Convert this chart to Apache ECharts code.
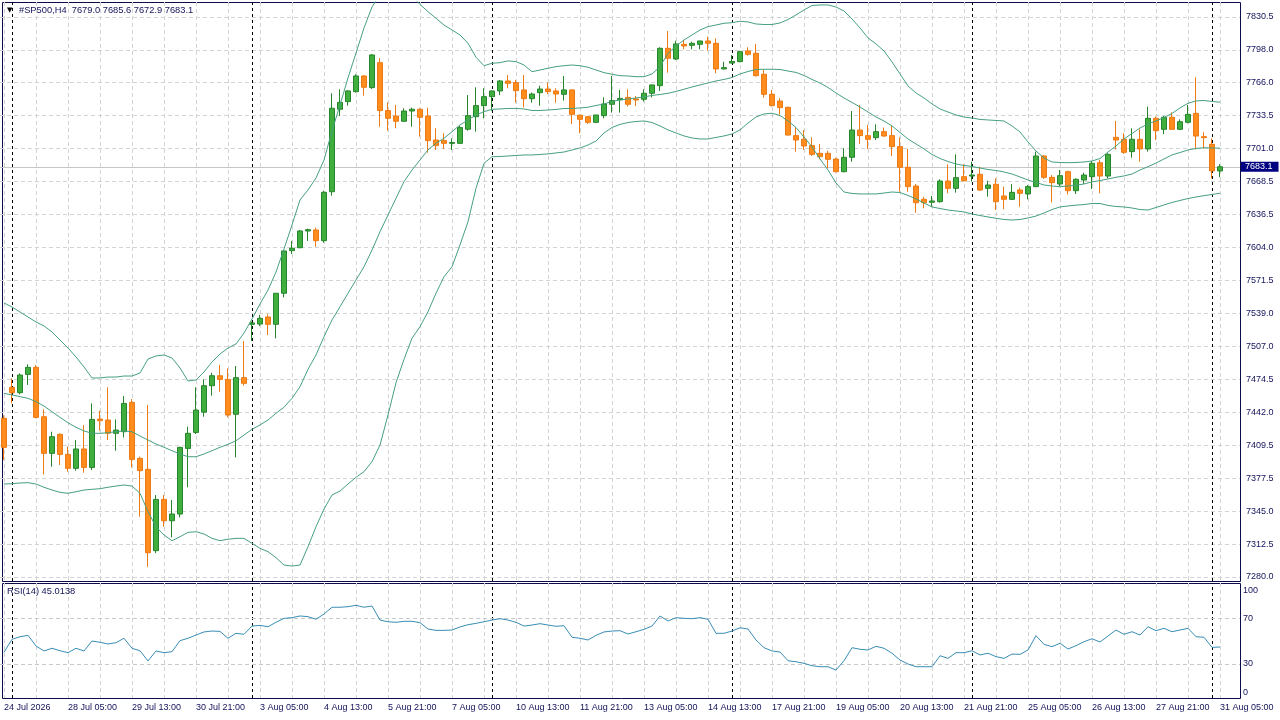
<!DOCTYPE html>
<html><head><meta charset="utf-8">
<script src="https://cdn.jsdelivr.net/npm/echarts@6/dist/echarts.min.js"></script>
<style>html,body{margin:0;padding:0;background:#fff}#c{width:1280px;height:720px}</style>
</head><body><div id="c"></div>
<script>
const symbolInfo = '#SP500,H4  7679.0 7685.6 7672.9 7683.1';
const rsiInfo = 'RSI(14) 45.0138';
const lastPrice = 7683.1;
const tradingDays = ['24 Jul','27 Jul','28 Jul','29 Jul','30 Jul','31 Jul','3 Aug','4 Aug','5 Aug','6 Aug','7 Aug','10 Aug','11 Aug','12 Aug','13 Aug','14 Aug','17 Aug','18 Aug','19 Aug','20 Aug','21 Aug','24 Aug','25 Aug','26 Aug','27 Aug','28 Aug','31 Aug'];
const sessionHours = ['01:00','05:00','09:00','13:00','17:00','21:00'];
const xTickLabels = ['24 Jul 2026','28 Jul 05:00','29 Jul 13:00','30 Jul 21:00','3 Aug 05:00','4 Aug 13:00','5 Aug 21:00','7 Aug 05:00','10 Aug 13:00','11 Aug 21:00','13 Aug 05:00','14 Aug 13:00','17 Aug 21:00','19 Aug 05:00','20 Aug 13:00','21 Aug 21:00','25 Aug 05:00','26 Aug 13:00','27 Aug 21:00','31 Aug 05:00'];
const priceTicks = [7280.0,7312.5,7345.0,7377.5,7409.5,7442.0,7474.5,7507.0,7539.0,7571.5,7604.0,7636.5,7668.5,7701.0,7733.5,7766.0,7798.0,7830.5];
const rsiTicks = [0,30,70,100];
const rsiLevels = [30,70];
const weekStarts = [1,31,61,91,121,151];

const opens = [7435.9,7466.4,7461.1,7479.1,7486.0,7437.5,7401.5,7420.2,7400.5,7386.8,
7405.8,7387.7,7435.2,7434.3,7421.2,7422.8,7451.6,7396.6,7385.8,7305.9,
7356.3,7335.3,7341.9,7406.4,7422.1,7442.0,7468.0,7477.8,7474.2,7439.9,
7475.9,7528.3,7528.6,7535.5,7528.3,7558.8,7600.7,7603.6,7620.0,7621.0,
7610.5,7658.6,7739.6,7747.1,7756.9,7772.3,7760.9,7785.4,7738.3,7733.0,
7727.8,7737.9,7739.6,7733.0,7709.4,7708.8,7706.1,7706.1,7720.0,7732.3,
7743.2,7752.0,7757.6,7767.4,7765.8,7758.6,7750.0,7755.9,7759.5,7757.6,
7754.3,7758.6,7733.7,7732.3,7726.8,7733.3,7744.5,7749.0,7751.3,7749.7,
7749.4,7755.3,7762.8,7799.5,7789.0,7803.4,7802.4,7803.4,7806.7,7804.4,
7779.2,7785.0,7786.4,7796.9,7794.6,7774.0,7754.3,7747.7,7741.5,7713.7,
7710.1,7703.9,7696.3,7696.3,7690.7,7678.3,7692.4,7719.2,7713.7,7711.7,
7717.6,7713.7,7702.9,7682.6,7664.2,7651.1,7648.2,7648.8,7669.1,7661.9,
7673.4,7674.0,7675.7,7661.9,7665.9,7654.4,7651.1,7660.3,7656.4,7663.6,
7693.7,7672.7,7666.2,7678.3,7659.6,7670.1,7673.4,7687.1,7674.0,7712.0,
7710.1,7698.0,7710.1,7700.6,7730.7,7719.9,7731.7,7719.9,7726.8,7735.6,
7712.7,7705.2,7679.0];
const highs = [7439.0,7475.2,7480.1,7489.0,7488.3,7444.7,7422.8,7421.2,7408.1,7414.6,
7429.3,7450.6,7443.4,7466.4,7434.9,7457.8,7454.9,7398.2,7449.0,7360.6,
7360.6,7355.7,7408.0,7427.7,7466.4,7474.2,7480.8,7488.3,7485.0,7487.3,
7511.9,7531.0,7537.5,7538.1,7559.0,7601.3,7610.2,7621.0,7622.3,7623.3,
7659.6,7755.3,7759.2,7758.5,7774.0,7773.3,7793.9,7789.7,7746.4,7743.8,
7740.6,7741.2,7740.6,7741.2,7720.9,7716.0,7711.0,7723.2,7753.6,7761.2,
7760.2,7758.0,7768.4,7773.3,7768.4,7773.3,7756.0,7762.8,7765.8,7760.2,
7772.3,7759.2,7734.6,7733.0,7734.0,7751.3,7772.3,7758.6,7759.2,7752.6,
7759.2,7764.0,7800.5,7816.5,7807.0,7807.7,7806.0,7807.0,7811.0,7809.3,
7786.3,7792.9,7797.2,7800.5,7803.8,7778.2,7758.5,7750.4,7742.2,7721.9,
7719.2,7712.0,7705.5,7698.9,7692.0,7701.2,7737.9,7743.8,7724.2,7724.8,
7721.6,7723.5,7712.0,7700.6,7666.2,7653.7,7654.4,7670.8,7685.5,7695.3,
7685.5,7688.1,7683.2,7669.4,7671.7,7663.6,7666.2,7662.6,7665.2,7698.0,
7694.7,7675.0,7679.9,7679.3,7671.7,7677.3,7688.8,7689.8,7696.3,7728.1,
7716.0,7720.9,7719.9,7742.2,7732.4,7733.0,7736.6,7729.7,7743.8,7771.0,
7717.0,7711.0,7685.6];
const lows = [7395.0,7450.6,7459.5,7468.7,7436.0,7380.9,7388.4,7390.0,7383.5,7384.5,
7382.5,7385.1,7423.8,7414.6,7404.1,7417.2,7387.7,7339.3,7290.1,7303.5,
7329.4,7319.0,7338.6,7368.1,7420.5,7437.5,7458.2,7462.1,7436.9,7397.6,
7468.0,7512.0,7526.6,7517.8,7514.5,7554.8,7597.4,7603.0,7610.2,7604.6,
7608.5,7654.7,7733.0,7743.2,7756.0,7753.0,7759.5,7722.5,7718.6,7720.9,
7727.4,7722.5,7712.7,7697.0,7699.6,7700.6,7699.6,7705.5,7718.6,7717.6,
7730.7,7738.2,7753.6,7760.2,7746.1,7741.5,7746.1,7743.1,7754.6,7746.1,
7748.1,7725.1,7715.9,7725.1,7726.0,7730.7,7736.3,7736.3,7742.2,7742.8,
7747.1,7751.3,7757.6,7775.6,7788.0,7798.5,7798.5,7798.5,7797.2,7775.0,
7778.9,7784.8,7785.7,7792.3,7771.7,7751.0,7742.2,7734.6,7713.7,7698.0,
7699.6,7693.7,7690.4,7681.6,7677.6,7677.6,7688.1,7705.5,7700.6,7709.4,
7712.7,7693.7,7658.6,7658.6,7638.0,7642.3,7643.9,7647.8,7657.0,7657.7,
7668.5,7668.5,7659.3,7653.7,7640.6,7641.3,7650.5,7643.9,7651.1,7663.0,
7671.1,7648.2,7664.2,7656.0,7656.4,7666.2,7661.3,7657.0,7671.7,7700.2,
7695.7,7692.0,7688.1,7698.0,7709.4,7715.0,7719.2,7719.2,7725.8,7700.2,
7701.0,7671.8,7672.9];
const closes = [7407.4,7461.1,7478.5,7486.0,7436.9,7401.5,7417.9,7400.5,7386.8,7405.8,
7387.7,7434.9,7433.6,7421.2,7424.4,7450.6,7395.6,7384.5,7303.9,7356.3,
7335.3,7341.9,7407.4,7421.2,7444.1,7468.0,7477.8,7474.2,7439.2,7475.9,
7470.3,7529.6,7534.2,7528.3,7558.8,7600.4,7603.0,7620.0,7621.3,7610.5,
7658.0,7740.6,7746.4,7757.6,7772.3,7761.2,7793.0,7738.3,7730.7,7727.8,
7737.9,7739.6,7731.7,7708.8,7703.9,7706.1,7707.0,7721.6,7733.3,7743.2,
7752.0,7757.6,7767.4,7765.1,7757.9,7750.0,7754.6,7759.5,7756.9,7754.6,
7758.6,7734.6,7729.7,7726.8,7734.0,7744.8,7748.1,7750.3,7744.5,7748.7,
7755.3,7763.5,7799.5,7789.7,7803.8,7801.8,7804.4,7806.7,7804.4,7779.2,
7780.5,7786.6,7796.2,7793.6,7772.6,7754.3,7743.2,7741.2,7714.3,7709.4,
7703.5,7695.3,7693.0,7690.4,7678.3,7692.4,7719.2,7713.7,7710.1,7717.6,
7713.3,7702.9,7682.6,7663.6,7647.8,7647.8,7649.5,7669.1,7661.9,7672.4,
7669.4,7675.0,7660.3,7665.2,7648.8,7651.1,7658.0,7657.0,7663.6,7693.7,
7672.7,7667.5,7674.4,7659.6,7670.8,7675.0,7686.5,7674.0,7695.3,7709.4,
7697.3,7710.1,7700.6,7730.7,7718.6,7731.7,7719.9,7727.4,7734.6,7713.3,
7711.7,7679.0,7683.1];
const bbUpper = [7549.3,7545.3,7540.4,7535.5,7530.6,7526.7,7520.8,7512.9,7505.0,7496.2,
7486.4,7475.6,7475.6,7476.5,7476.5,7477.5,7477.5,7480.5,7494.2,7497.2,
7498.2,7495.2,7485.4,7472.6,7473.6,7481.5,7491.3,7499.1,7505.0,7509.0,
7519.8,7533.5,7548.3,7562.0,7579.7,7602.3,7625.9,7650.5,7660.3,7672.1,
7689.8,7718.3,7743.8,7770.4,7794.9,7819.5,7840.1,7851.9,7858.8,7860.8,
7856.8,7850.9,7842.6,7835.5,7829.0,7822.4,7817.5,7812.6,7804.5,7790.7,
7782.4,7784.8,7785.4,7787.1,7786.4,7783.1,7776.5,7778.2,7779.9,7781.5,
7782.4,7783.1,7782.4,7780.9,7778.2,7775.6,7774.0,7772.6,7772.3,7771.6,
7771.6,7774.3,7781.5,7794.6,7801.8,7807.7,7812.6,7817.5,7820.8,7822.4,
7824.1,7824.7,7826.1,7825.4,7823.4,7822.9,7822.9,7824.4,7827.8,7832.3,
7837.2,7841.6,7842.1,7842.1,7840.1,7836.2,7828.3,7819.5,7809.7,7803.8,
7796.9,7786.1,7774.3,7762.5,7755.6,7750.7,7744.8,7739.9,7736.9,7734.0,
7732.0,7731.0,7729.6,7729.1,7728.6,7728.1,7723.2,7717.3,7707.5,7698.6,
7691.7,7687.8,7687.3,7687.1,7687.3,7687.8,7688.8,7691.2,7697.6,7703.5,
7710.4,7715.8,7721.2,7725.2,7728.1,7731.5,7735.5,7740.9,7745.5,7747.8,
7748.2,7747.3,7746.5];
const bbMiddle = [7460.5,7458.9,7457.2,7455.6,7452.3,7448.0,7442.4,7436.9,7431.6,7427.1,
7423.5,7421.2,7421.2,7421.8,7422.8,7423.5,7422.8,7418.6,7414.6,7410.7,
7407.5,7404.1,7400.9,7398.2,7398.2,7400.9,7404.1,7407.5,7410.4,7413.9,
7419.5,7425.1,7429.4,7434.3,7440.9,7446.8,7455.6,7467.0,7484.1,7498.2,
7516.1,7532.6,7545.6,7558.8,7571.9,7584.9,7601.3,7619.3,7635.7,7652.1,
7668.5,7679.9,7689.8,7699.6,7706.2,7711.1,7717.6,7724.2,7729.1,7734.0,
7737.2,7739.6,7739.9,7740.4,7740.4,7739.9,7738.4,7738.4,7738.9,7739.4,
7740.4,7740.4,7740.9,7741.6,7743.3,7744.8,7747.3,7748.7,7749.7,7750.7,
7751.7,7753.2,7754.1,7755.3,7757.1,7759.3,7761.5,7763.5,7765.4,7767.4,
7768.9,7770.8,7774.3,7776.7,7778.7,7778.9,7778.9,7778.7,7777.2,7775.8,
7772.8,7768.9,7765.4,7761.0,7755.6,7750.7,7746.3,7741.9,7736.9,7732.0,
7728.1,7723.2,7716.8,7710.4,7705.5,7700.6,7695.2,7691.2,7688.3,7685.8,
7684.4,7683.4,7681.9,7680.4,7679.5,7678.0,7676.0,7673.1,7670.1,7667.7,
7665.2,7664.2,7663.5,7664.2,7664.9,7666.2,7668.2,7669.6,7671.1,7672.8,
7674.1,7676.0,7679.9,7683.2,7686.8,7690.8,7694.7,7697.1,7699.6,7701.1,
7701.8,7701.6,7701.3];
const bbLower = [7371.4,7371.7,7372.4,7372.7,7371.4,7368.2,7365.5,7363.2,7362.3,7363.8,
7365.5,7366.2,7366.8,7368.2,7369.4,7370.4,7369.4,7362.3,7344.2,7329.4,
7321.3,7315.7,7319.6,7323.9,7324.5,7322.3,7318.0,7315.7,7317.1,7318.0,
7318.0,7313.1,7308.2,7304.9,7299.0,7291.8,7290.8,7291.8,7309.8,7329.4,
7346.8,7360.6,7364.5,7371.4,7378.0,7383.5,7393.3,7409.7,7439.2,7470.9,
7493.9,7514.6,7526.0,7540.7,7558.8,7575.1,7584.9,7606.3,7629.1,7662.0,
7686.5,7693.0,7693.2,7693.7,7694.2,7694.7,7694.7,7695.2,7695.7,7696.7,
7697.6,7699.6,7701.6,7704.5,7708.4,7716.3,7721.7,7724.7,7726.6,7727.6,
7728.1,7726.6,7723.2,7719.3,7716.3,7713.4,7711.4,7710.4,7710.4,7711.9,
7713.4,7715.3,7719.3,7726.1,7732.0,7735.0,7735.7,7733.5,7728.1,7721.7,
7712.4,7702.6,7690.8,7679.9,7667.2,7658.3,7656.9,7656.4,7656.4,7656.4,
7657.3,7658.3,7657.8,7654.9,7651.5,7647.5,7643.6,7642.1,7640.6,7639.7,
7638.7,7636.7,7635.2,7633.8,7632.5,7631.3,7630.8,7631.3,7632.8,7634.7,
7637.7,7641.1,7643.6,7644.6,7645.4,7646.0,7647.0,7647.0,7645.1,7644.1,
7643.6,7642.6,7641.1,7640.6,7643.1,7645.6,7648.0,7650.0,7651.9,7653.4,
7654.7,7655.9,7657.1];
const rsi = [40.3,51.8,54.1,55.3,45.9,41.5,43.9,41.7,40.0,43.9,
41.5,50.3,49.2,47.7,48.8,52.7,43.9,41.7,32.7,41.5,
40.0,40.9,50.6,52.7,55.6,58.3,59.1,58.8,52.7,57.1,
56.2,63.5,64.1,62.9,66.8,70.3,70.9,72.4,71.8,69.5,
74.1,80.1,80.1,80.6,81.8,80.1,81.2,68.8,67.3,66.8,
67.7,67.7,66.5,60.9,59.7,59.7,60.0,62.7,64.7,65.9,
67.3,68.8,70.0,68.8,66.8,63.5,64.4,65.6,64.4,63.3,
63.8,53.6,52.7,51.2,55.3,58.3,59.1,59.4,56.5,58.5,
60.6,63.5,72.4,68.0,70.9,70.3,70.0,70.9,69.5,57.1,
57.1,59.1,62.0,60.9,51.2,44.4,41.5,40.6,32.9,32.0,
30.6,28.5,27.6,27.6,24.7,32.9,44.4,43.0,42.4,45.6,
43.9,39.5,33.5,30.0,27.6,27.6,27.6,37.3,35.0,40.0,
40.0,41.7,38.0,39.5,36.5,35.0,38.8,38.5,42.4,55.0,
47.4,45.3,48.3,43.2,46.2,49.7,52.3,49.4,54.7,60.0,
56.2,58.5,55.6,62.9,59.4,61.5,58.5,60.0,61.5,54.1,
53.6,44.7,45.01];

// categories: H4 bar times
const times = [tradingDays[0] + ' 21:00'];
for (let d = 1; d < tradingDays.length - 1; d++) {
  sessionHours.forEach(h => times.push(tradingDays[d] + ' ' + h));
}
sessionHours.slice(0, 2).forEach(h => times.push(tradingDays[tradingDays.length - 1] + ' ' + h));
const categories = times.concat(['', ' ']); // right chart shift

const candleData = times.map((t, i) => [opens[i], closes[i], lows[i], highs[i]]);

const FONT = '"Liberation Sans", Arial, sans-serif';
const TXT = '#12125a';
const FRAME = '#0c0c4a';
const GRIDC = '#d3d3d3';
const BAND = '#46a07e';
const RSIC = '#3a8db5';

const chart = echarts.init(document.getElementById('c'), null, {renderer: 'canvas'});
const hidden = {show: false};
const gridBase = {containLabel: false, outerBoundsMode: 'none'};

const sepLines = weekStarts.map(i => ({xAxis: times[i]}));

chart.setOption({
  animation: false,
  backgroundColor: '#ffffff',
  title: [
    {text: '{a|▼}' + symbolInfo, left: 7, top: 6, padding: 0,
     textStyle: {fontFamily: FONT, fontSize: 9.3, fontWeight: 'normal', color: TXT,
       rich: {a: {fontSize: 7, color: '#000', width: 12, fontFamily: '"DejaVu Sans", sans-serif'}}}},
    {text: rsiInfo, left: 7, top: 587, padding: 0,
     textStyle: {fontFamily: FONT, fontSize: 9.3, fontWeight: 'normal', color: TXT}}
  ],
  grid: [
    Object.assign({left: 0, right: 40, top: 2, bottom: 139}, gridBase),
    Object.assign({left: 0, right: 40, top: 583, bottom: 22}, gridBase),
    Object.assign({left: 4, right: 60, top: 2, bottom: 22}, gridBase),
    Object.assign({left: 0, right: 40, top: 16.8, bottom: 143}, gridBase),
    Object.assign({left: 2.5, right: 39.5, top: 2.5, bottom: 138.5, show: true, borderColor: FRAME, borderWidth: 1, backgroundColor: 'rgba(0,0,0,0)'}, gridBase),
    Object.assign({left: 2.5, right: 39.5, top: 583.5, bottom: 21.5, show: true, borderColor: FRAME, borderWidth: 1, backgroundColor: 'rgba(0,0,0,0)'}, gridBase)
  ],
  xAxis: [
    {type: 'category', gridIndex: 0, data: categories, boundaryGap: true,
     axisLine: hidden, axisTick: hidden, axisLabel: hidden, splitLine: hidden},
    {type: 'category', gridIndex: 1, data: categories, boundaryGap: true,
     axisLine: hidden, axisTick: hidden, splitLine: hidden,
     axisLabel: {show: true, interval: (i) => i % 8 === 0 && i < times.length,
       formatter: (v, i) => xTickLabels[i / 8] || '', align: 'left', margin: 5,
       fontFamily: FONT, fontSize: 9, color: TXT}},
    {type: 'value', gridIndex: 2, min: 0, max: 152, interval: 4,
     axisLine: hidden, axisTick: hidden, axisLabel: hidden,
     splitLine: {show: true, lineStyle: {color: GRIDC, width: 1, type: [4, 3]}}},
    {type: 'value', gridIndex: 3, min: 0, max: 1, show: false},
    {type: 'value', gridIndex: 4, min: 0, max: 1, show: false},
    {type: 'value', gridIndex: 5, min: 0, max: 1, show: false}
  ],
  yAxis: [
    {type: 'value', gridIndex: 0, min: 7276.1, max: 7845.0,
     axisLine: hidden, axisTick: hidden, axisLabel: hidden, splitLine: hidden},
    {type: 'value', gridIndex: 1, min: 0, max: 101.5, interval: 10, position: 'right',
     axisLine: hidden, axisTick: hidden, splitLine: hidden,
     axisLabel: {show: true, margin: 3, fontFamily: FONT, fontSize: 9, color: TXT,
       formatter: function (v) {
         const r = Math.round(v);
         if (Math.abs(v - r) > 1e-6 || rsiTicks.indexOf(r) < 0) return '';
         if (r === 100) return '{t|100}';
         if (r === 0) return '{b|0}';
         return String(r);
       },
       rich: {t: {padding: [11, 0, 0, 0], fontFamily: FONT, fontSize: 9, color: TXT},
              b: {padding: [0, 0, 11, 0], fontFamily: FONT, fontSize: 9, color: TXT}}}},
    {type: 'value', gridIndex: 2, min: 0, max: 1, show: false},
    {type: 'value', gridIndex: 3, min: 0, max: priceTicks.length - 1, interval: 1, position: 'right',
     axisLine: hidden, axisTick: hidden,
     axisLabel: {show: true, margin: 6, fontFamily: FONT, fontSize: 9, color: TXT,
       formatter: (v) => { const k = Math.round(v); return priceTicks[k] !== undefined ? priceTicks[k].toFixed(1) : ''; }},
     splitLine: {show: true, lineStyle: {color: GRIDC, width: 1, type: [4, 3]}}},
    {type: 'value', gridIndex: 4, min: 0, max: 1, show: false},
    {type: 'value', gridIndex: 5, min: 0, max: 1, show: false}
  ],
  series: [
    {type: 'candlestick', name: 'SP500', xAxisIndex: 0, yAxisIndex: 0, data: candleData,
     barWidth: 5, z: 3,
     itemStyle: {color: '#3fae3f', color0: '#ff8c1c', borderColor: '#26852a', borderColor0: '#ec7a14',
       borderColorDoji: '#26852a', borderWidth: 1},
     markLine: {silent: true, symbol: ['none', 'none'], animation: false, z: 1,
       label: {show: false},
       lineStyle: {color: '#000', width: 1, type: [3, 3]},
       data: sepLines.concat([{yAxis: lastPrice,
         lineStyle: {color: '#c6c6c6', width: 1, type: 'solid'},
         label: {show: true, position: 'end', distance: 1, formatter: lastPrice.toFixed(1),
           backgroundColor: '#000080', color: '#ffffff', fontFamily: FONT, fontSize: 9,
           padding: [1, 6, 0, 4]}}])}},
    {type: 'line', name: 'BB upper', xAxisIndex: 0, yAxisIndex: 0, data: bbUpper, symbol: 'none',
     lineStyle: {color: BAND, width: 1}, silent: true, z: 4},
    {type: 'line', name: 'BB middle', xAxisIndex: 0, yAxisIndex: 0, data: bbMiddle, symbol: 'none',
     lineStyle: {color: BAND, width: 1}, silent: true, z: 4},
    {type: 'line', name: 'BB lower', xAxisIndex: 0, yAxisIndex: 0, data: bbLower, symbol: 'none',
     lineStyle: {color: BAND, width: 1}, silent: true, z: 4},
    {type: 'line', name: 'RSI(14)', xAxisIndex: 1, yAxisIndex: 1, data: rsi, symbol: 'none',
     lineStyle: {color: RSIC, width: 1}, silent: true, z: 4,
     markLine: {silent: true, symbol: ['none', 'none'], animation: false, z: 1,
       label: {show: false},
       lineStyle: {color: '#000', width: 1, type: [3, 3]},
       data: sepLines.concat(rsiLevels.map(v => ({yAxis: v,
         lineStyle: {color: '#c8c8c8', width: 1, type: [4, 3]}})))}}
  ]
});
</script>
</body></html>
